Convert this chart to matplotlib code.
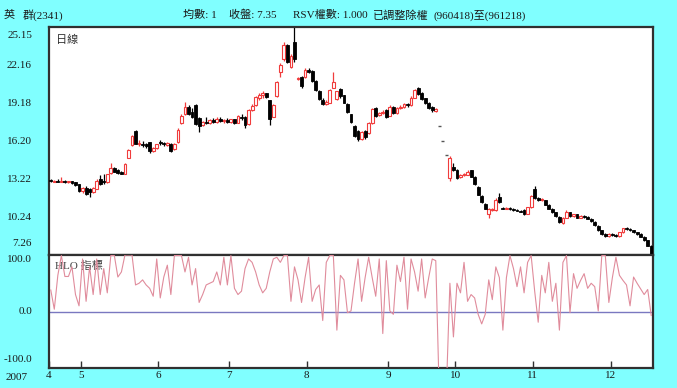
import numpy as np
import pandas as pd
import matplotlib
matplotlib.use("Agg")
import matplotlib.pyplot as plt
from matplotlib.transforms import blended_transform_factory, offset_copy

# ---------------- data ----------------
holidays = ["2007-05-01", "2007-06-19", "2007-09-25", "2007-10-10"]
dates = [d for d in pd.bdate_range("2007-04-18", "2007-12-18")
         if d.strftime("%Y-%m-%d") not in holidays]

opens = [13.15, 13.00, 13.10, 13.00, 13.10, 12.95, 13.05, 12.95, 12.80, 12.25,
         12.55, 12.40, 12.20, 12.45, 13.20, 13.05, 12.95, 13.70, 14.05, 13.90,
         13.80, 13.65, 14.90, 15.90, 17.00, 15.95, 16.00, 15.95, 16.10, 15.45,
         15.65, 16.15, 16.00, 15.90, 16.00, 15.55, 16.10, 17.60, 18.30, 18.90,
         18.45, 19.00, 18.00, 17.45, 17.70, 17.65, 17.85, 17.70, 17.95, 17.75,
         17.85, 17.70, 17.90, 17.65, 18.10, 18.10, 17.50, 18.65, 19.00, 19.60,
         19.85, 19.95, 19.40, 18.10, 19.70, 21.60, 22.60, 23.70, 22.00, 24.00,
         21.05, 21.20, 21.20, 21.80, 21.70, 20.90, 20.10, 19.45, 19.10, 19.20,
         20.40, 19.50, 20.30, 19.80, 19.10, 18.30, 17.40, 17.00, 16.40, 17.00,
         16.80, 17.60, 18.80, 18.25, 18.40, 18.60, 18.20, 18.85, 18.40, 18.80,
         18.90, 19.10, 19.00, 19.60, 20.40, 20.00, 19.55, 19.20, 18.90, 18.55,
         17.40, 16.20, 15.10, 13.30, 14.20, 13.90, 13.35, 13.55, 13.55, 13.90,
         13.40, 12.60, 11.90, 11.30, 10.50, 10.80, 10.80, 11.80, 10.95, 10.90,
         10.95, 10.85, 10.80, 10.75, 10.80, 10.50, 11.00, 12.40, 11.70, 11.55,
         11.55, 11.20, 10.90, 10.60, 10.25, 9.80, 10.20, 10.60, 10.30, 10.45,
         10.20, 10.35, 10.25, 10.10, 9.85, 9.55, 9.20, 8.90, 8.75, 8.90,
         8.80, 8.75, 9.05, 9.40, 9.30, 9.20, 9.05, 8.90, 8.70, 8.40,
         8.00]
highs = [13.25, 13.15, 13.20, 13.35, 13.15, 13.10, 13.10, 13.00, 12.85, 12.60,
         12.65, 12.50, 12.60, 13.20, 13.55, 13.60, 13.65, 14.50, 14.20, 14.00,
         13.85, 14.50, 15.55, 16.65, 17.05, 16.30, 16.20, 16.05, 16.15, 15.75,
         16.00, 16.25, 16.15, 16.15, 16.05, 16.05, 17.20, 18.30, 19.30, 19.00,
         18.80, 19.10, 18.05, 17.80, 18.10, 17.95, 18.00, 18.05, 18.10, 17.95,
         18.00, 17.95, 17.95, 18.25, 18.30, 18.15, 18.70, 19.10, 19.75, 19.95,
         20.10, 20.00, 19.45, 19.10, 20.90, 22.30, 24.00, 23.85, 23.00, 25.15,
         21.25, 21.30, 21.90, 21.95, 21.75, 21.00, 20.20, 19.55, 19.40, 20.30,
         21.60, 20.15, 20.40, 19.85, 19.15, 18.35, 17.45, 17.05, 17.00, 17.10,
         17.70, 18.80, 18.90, 18.50, 18.60, 18.75, 19.00, 18.95, 18.90, 19.05,
         19.20, 19.20, 19.70, 20.30, 20.45, 20.05, 19.60, 19.25, 18.95, 18.80,
         17.40, 16.20, 15.10, 15.00, 14.50, 14.00, 13.65, 13.70, 13.90, 13.95,
         13.45, 12.65, 11.95, 11.35, 10.95, 10.95, 11.70, 12.10, 11.05, 11.00,
         11.00, 10.95, 10.90, 10.80, 10.85, 11.05, 11.95, 12.70, 11.80, 11.75,
         11.60, 11.25, 10.95, 10.65, 10.30, 10.25, 10.80, 10.65, 10.50, 10.50,
         10.40, 10.40, 10.30, 10.15, 9.90, 9.60, 9.25, 8.95, 8.95, 8.95,
         8.90, 9.10, 9.40, 9.45, 9.35, 9.25, 9.10, 8.95, 8.75, 8.45,
         8.05]
lows = [13.00, 12.95, 12.95, 12.95, 12.90, 12.90, 12.85, 12.70, 12.20, 12.15,
        11.95, 11.85, 12.10, 12.40, 12.75, 12.85, 12.90, 13.65, 13.75, 13.65,
        13.60, 13.60, 14.85, 15.85, 15.95, 15.80, 15.75, 15.65, 15.30, 15.35,
        15.60, 15.90, 15.85, 15.85, 15.35, 15.50, 16.05, 17.55, 18.25, 18.25,
        18.00, 17.45, 16.90, 17.35, 17.55, 17.55, 17.60, 17.65, 17.70, 17.60,
        17.60, 17.65, 17.55, 17.60, 17.85, 17.20, 17.45, 18.55, 18.95, 19.45,
        19.60, 19.55, 17.45, 18.05, 19.65, 21.20, 22.50, 22.30, 21.90, 22.40,
        21.00, 20.40, 21.15, 21.55, 20.80, 20.10, 19.40, 19.00, 19.00, 19.15,
        20.35, 19.40, 19.60, 19.15, 18.40, 17.60, 16.50, 16.20, 16.30, 16.40,
        16.75, 17.55, 18.10, 18.15, 18.30, 18.00, 18.15, 18.30, 18.35, 18.70,
        18.80, 18.90, 18.95, 19.55, 19.80, 19.40, 19.10, 18.70, 18.50, 18.50,
        17.40, 16.20, 15.10, 13.10, 13.85, 13.25, 13.30, 13.45, 13.50, 13.35,
        12.75, 11.95, 11.35, 10.85, 10.20, 10.70, 10.75, 11.35, 10.85, 10.85,
        10.80, 10.75, 10.70, 10.60, 10.40, 10.45, 10.95, 11.65, 11.50, 11.50,
        11.15, 10.85, 10.55, 10.25, 9.75, 9.70, 10.15, 10.25, 10.25, 10.15,
        10.15, 10.20, 10.05, 9.85, 9.55, 9.15, 8.85, 8.70, 8.70, 8.75,
        8.70, 8.70, 9.00, 9.25, 9.15, 9.00, 8.85, 8.65, 8.35, 7.95,
        7.30]
closes = [13.10, 13.08, 13.00, 13.10, 12.95, 13.05, 12.90, 12.75, 12.30, 12.50,
          12.05, 12.20, 12.50, 13.10, 12.85, 12.95, 13.60, 14.10, 13.80, 13.70,
          13.65, 14.40, 15.50, 16.60, 16.00, 16.05, 15.90, 15.80, 15.40, 15.65,
          15.95, 16.05, 15.95, 16.05, 15.45, 16.00, 17.10, 18.20, 18.90, 18.30,
          18.10, 17.55, 17.40, 17.70, 17.65, 17.85, 17.70, 17.95, 17.80, 17.85,
          17.70, 17.90, 17.60, 18.15, 18.00, 17.45, 18.60, 18.95, 19.65, 19.80,
          19.95, 19.65, 17.95, 19.00, 20.80, 22.20, 23.70, 22.40, 22.90, 22.60,
          21.15, 20.55, 21.80, 21.65, 20.90, 20.20, 19.50, 19.10, 19.30, 20.20,
          20.80, 20.10, 19.70, 19.20, 18.50, 17.70, 16.60, 16.40, 16.90, 16.50,
          17.60, 18.70, 18.20, 18.40, 18.50, 18.10, 18.90, 18.40, 18.80, 18.90,
          19.10, 19.00, 19.60, 20.20, 19.90, 19.50, 19.20, 18.80, 18.60, 18.70,
          17.40, 16.20, 15.10, 14.90, 13.90, 13.30, 13.55, 13.60, 13.80, 13.40,
          12.80, 12.00, 11.45, 10.90, 10.85, 10.85, 11.60, 11.40, 10.90, 10.95,
          10.85, 10.80, 10.75, 10.65, 10.45, 11.00, 11.90, 11.70, 11.60, 11.65,
          11.20, 10.90, 10.60, 10.30, 9.85, 10.20, 10.60, 10.30, 10.45, 10.20,
          10.35, 10.25, 10.10, 9.90, 9.60, 9.20, 8.90, 8.75, 8.90, 8.80,
          8.75, 9.05, 9.35, 9.30, 9.20, 9.05, 8.90, 8.70, 8.40, 8.00,
          7.35]
hlo = [38, 4, 64, 99, 62, 62, 79, 30, 10, 93,
       18, 79, 30, 93, 30, 76, 33, 99, 99, 61,
       70, 100, 100, 100, 47, 50, 56, 47, 41, 27,
       93, 24, 61, 82, 30, 99, 99, 99, 70, 96,
       47, 76, 16, 30, 47, 50, 53, 70, 47, 96,
       47, 99, 41, 30, 36, 76, 93, 87, 70, 47,
       33, 41, 70, 93, 96, 87, 99, 99, 18, 79,
       56, 16, 60, 96, 18, 39, 47, -16, 87, 99,
       99, -33, 64, 56, -2, 1, 50, 93, 18, 60,
       96, 60, 27, 93, -39, 90, 1, -5, 82, 53,
       96, 4, 93, 70, 36, 93, 24, 60, 93, 90,
       -150, -170, -140, 50, -45, 50, 33, 87, 18, 30,
       24, -5, -22, -5, 56, 21, 79, 60, -33, 60,
       99, 76, 44, 79, 33, 87, 99, 36, -19, 64,
       33, 87, 18, 50, -33, 87, 99, -2, 67, 41,
       55, 67, 41, 50, 44, 1, 99, 99, 16, 60,
       96, 64, 55, 47, 10, 61, 50, 40, 30, 39,
       -7]

price_ticks = [25.15, 22.16, 19.18, 16.20, 13.22, 10.24, 7.26]
hlo_ticks = [100.0, 0.0, -100.0]
year_label = "2007"
stock_name = ["英", "群(2341)"]
header_items = ["均數: 1", "收盤: 7.35", "RSV權數: 1.000", "已調整除權", "(960418)至(961218)"]
panel_titles = ["日線", "HLO 指標"]

assert len(dates) == len(opens) == len(highs) == len(lows) == len(closes) == len(hlo)

# ---------------- style ----------------
BG = "#80FFFF"
UP = "#F03C3C"
DOWN = "#000000"
FLAT = "#555555"
FRAME = "#303030"
TXT = "#1a1a1a"
FONT = ["Liberation Serif", "Noto Sans CJK TC", "DejaVu Sans"]
FS = 8

plt.rcParams["font.family"] = FONT

W, H = 677, 388
fig = plt.figure(figsize=(W / 100, H / 100), dpi=100, facecolor=BG)

L, R = 49, 653
T1, B1, B2 = 27, 255, 368
ax1 = fig.add_axes([L / W, 1 - B1 / H, (R - L) / W, (B1 - T1) / H])
ax2 = fig.add_axes([L / W, 1 - B2 / H, (R - L) / W, (B2 - B1) / H], sharex=ax1)

x = np.arange(len(dates))
o = np.array(opens); h = np.array(highs); l = np.array(lows); c = np.array(closes)
flat = (h - l) < 1e-9
up = (c >= o) & ~flat
dn = (c < o) & ~flat

# wicks
ax1.vlines(x[up], l[up], h[up], color=UP, lw=0.9, zorder=2)
ax1.vlines(x[dn], l[dn], h[dn], color=DOWN, lw=0.9, zorder=2)
# bodies
bw = 0.8
body_low = np.minimum(o, c)
body_h = np.maximum(np.abs(c - o), 0.06)
ax1.bar(x[up], body_h[up], bottom=body_low[up], width=bw, facecolor="white",
        edgecolor=UP, lw=0.8, zorder=3)
ax1.bar(x[dn], body_h[dn], bottom=body_low[dn], width=bw, facecolor=DOWN,
        edgecolor=DOWN, lw=0.6, zorder=3)
# one-price days (open = high = low = close)
ax1.hlines(c[flat], x[flat] - bw / 2, x[flat] + bw / 2, color=FLAT, lw=1.0, zorder=3)

ax1.set_ylim(price_ticks[-1], price_ticks[0])
ax1.set_xlim(-0.5, len(dates) - 0.5)

# HLO panel
ax2.plot(x, hlo, color="#E08C9C", lw=0.8, zorder=3)
ax2.axhline(0, color="#7A78C0", lw=1.0, zorder=2)
ax2.set_ylim(hlo_ticks[-1], hlo_ticks[0])

for ax in (ax1, ax2):
    ax.set_facecolor("white")
    for s in ax.spines.values():
        s.set_color(FRAME)
        s.set_linewidth(1.6)
    ax.set_yticks([])

ax1.tick_params(axis="x", which="both", bottom=False, labelbottom=False)

# y labels (as text, right aligned left of the frame)
lab_x = -(L - 32) / (R - L)
tr1 = blended_transform_factory(ax1.transAxes, ax1.transData)
p_off = {0: -8, len(price_ticks) - 1: 12}
for i, v in enumerate(price_ticks):
    t = offset_copy(tr1, fig=fig, x=0, y=p_off.get(i, 0), units="dots")
    ax1.text(lab_x, v, f"{v:.2f}", transform=t, ha="right", va="center",
             fontsize=FS, color=TXT)
tr2 = blended_transform_factory(ax2.transAxes, ax2.transData)
h_off = {0: -5, len(hlo_ticks) - 1: 8}
for i, v in enumerate(hlo_ticks):
    t = offset_copy(tr2, fig=fig, x=0, y=h_off.get(i, 0), units="dots")
    ax2.text(lab_x, v, f"{v:.1f}", transform=t, ha="right", va="center",
             fontsize=FS, color=TXT)

# month ticks
months = [d.month for d in dates]
mpos, mlab = [], []
for i, m in enumerate(months):
    if i == 0 or m != months[i - 1]:
        mpos.append(i - 0.5)
        mlab.append(str(m))
ax2.set_xticks(mpos)
ax2.set_xticklabels(mlab, fontsize=FS, color=TXT)
ax2.tick_params(axis="x", direction="in", length=5, width=1.0, color=FRAME, pad=2.5)

fig.text(17 / W, 1 - 377 / H, year_label, ha="center", va="center", fontsize=FS, color=TXT)

# header
hy = 1 - 15 / H
fig.text(4 / W, hy, stock_name[0], ha="left", va="center", fontsize=FS, color=TXT)
fig.text(23 / W, hy, stock_name[1], ha="left", va="center", fontsize=FS, color=TXT)
hx = [183, 229, 293, 373, 433]
for xx, s in zip(hx, header_items):
    fig.text(xx / W, hy, s, ha="left", va="center", fontsize=FS, color=TXT)

# panel titles
ax1.text(7 / (R - L), 1 - 13 / (B1 - T1), panel_titles[0], transform=ax1.transAxes,
         ha="left", va="center", fontsize=FS, color="#303030")
ax2.text(6 / (R - L), 1 - 11 / (B2 - B1), panel_titles[1], transform=ax2.transAxes,
         ha="left", va="center", fontsize=FS, color="#404040", zorder=1)

fig.savefig("out.png", dpi=100, facecolor=BG)
